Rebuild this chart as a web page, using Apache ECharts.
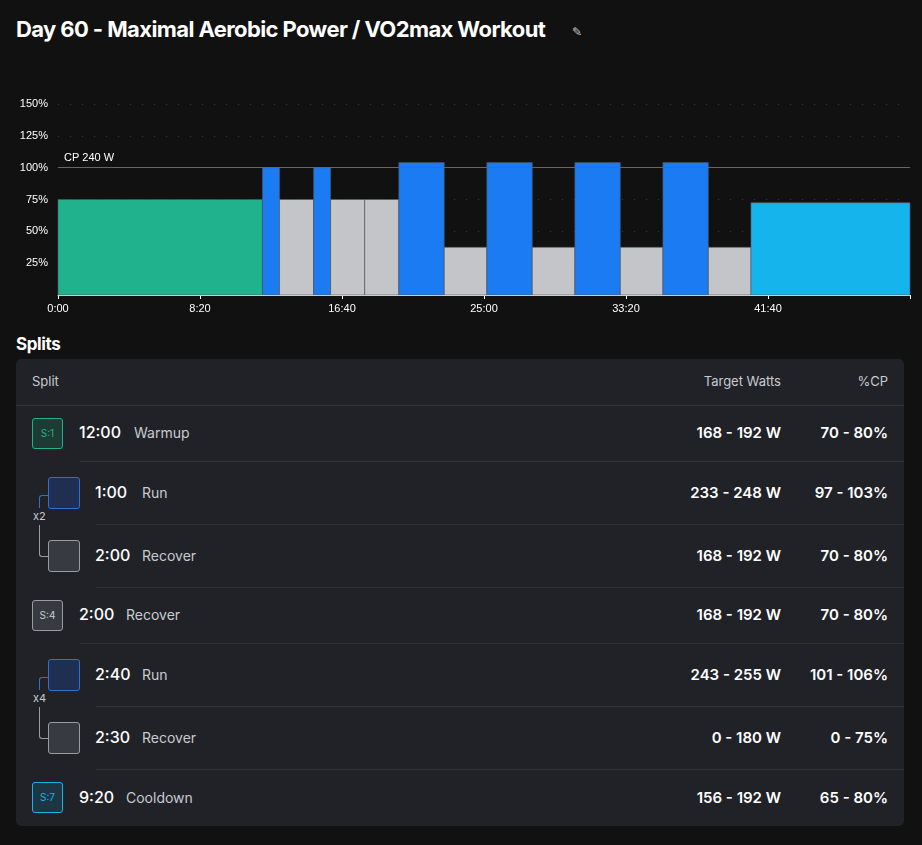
<!DOCTYPE html>
<html>
<head>
<meta charset="UTF-8">
<title>Workout</title>
<script src="https://cdn.jsdelivr.net/npm/echarts@6/dist/echarts.min.js"></script>
<style>
  body { margin:0; background:#111111; font-family: Inter, "Noto Sans", sans-serif; color:#fff; width:922px; height:845px; position:relative; overflow:hidden; }
  h1 { position:absolute; left:16px; top:16px; margin:0; font-size:22px; font-weight:700; letter-spacing:-0.6px; }
  .edit { position:absolute; left:572px; top:24px; font-size:12px; color:#ccc; }
  #main { position:absolute; left:0; top:90px; width:922px; height:230px; }
  h2 { position:absolute; left:16px; top:334px; margin:0; font-size:17px; font-weight:700; letter-spacing:-0.4px; }
  .panel { position:absolute; left:16px; top:359px; width:888px; height:467px; background:#202227; border-radius:5px; }
  .hdr { position:absolute; top:14px; font-size:13px; color:#c9cbd0; }
  .t { position:absolute; font-size:16px; font-weight:500; color:#fff; }
  .n { position:absolute; font-size:14px; color:#c9cbd0; }
  .w { position:absolute; right:123px; font-size:15px; font-weight:600; }
  .p { position:absolute; right:16px; font-size:15px; font-weight:600; }
  .box { position:absolute; border-radius:3px; box-sizing:border-box; font-size:10px; text-align:center; }
</style>
</head>
<body>
<h1>Day 60 - Maximal Aerobic Power / VO2max Workout</h1>
<div class="edit">&#9998;</div>
<div id="main"></div>
<h2>Splits</h2>
<div class="panel" id="panel"></div>
<script type="text/javascript">
  // segments: start (s), end (s), %CP, kind
  var segStart = [0, 720, 780, 900, 960, 1080, 1200, 1360, 1510, 1670, 1820, 1980, 2130, 2290, 2440];
  var segEnd   = [720, 780, 900, 960, 1080, 1200, 1360, 1510, 1670, 1820, 1980, 2130, 2290, 2440, 3000];
  var segPct   = [75, 100, 75, 100, 75, 75, 104, 37.5, 104, 37.5, 104, 37.5, 104, 37.5, 72.5];
  var segKind  = ['warm','run','rec','run','rec','rec','run','rec','run','rec','run','rec','run','rec','cool'];
  var kindColor = { warm:'#20b28c', run:'#1a7bf2', rec:'#c4c5c9', cool:'#16b4ed' };

  var data = [];
  for (var i = 0; i < segStart.length; i++) {
    data.push({ value: [segStart[i], segEnd[i], segPct[i]], itemStyle: { color: kindColor[segKind[i]] } });
  }

  function fmtTime(s) {
    var m = Math.floor(s / 60), r = s % 60;
    return m + ':' + (r < 10 ? '0' : '') + r;
  }

  var myChart = echarts.init(document.getElementById('main'));
  myChart.setOption({
    backgroundColor: 'transparent',
    animation: false,
    grid: { left: 58, right: 12, top: 14, bottom: 25 },
    xAxis: {
      type: 'value', min: 0, max: 3000, interval: 500,
      axisLine: { show: true, lineStyle: { color: '#ffffff' } },
      axisTick: { show: true, length: 4, lineStyle: { color: '#ffffff' } },
      splitLine: { show: false },
      axisLabel: { color: '#fff', fontSize: 11, formatter: function (v) { return v >= 3000 ? '' : fmtTime(v); } }
    },
    yAxis: {
      type: 'value', min: 0, max: 150, interval: 25,
      axisLine: { show: false }, axisTick: { show: false },
      splitLine: { show: true, lineStyle: { color: '#3a3a3a', type: [1, 11] } },
      axisLabel: { color: '#fff', fontSize: 11, margin: 10, formatter: function (v) { return v === 0 ? '' : v + '%'; } }
    },
    series: [{
      type: 'custom',
      renderItem: function (params, api) {
        var p0 = api.coord([api.value(0), api.value(2)]);
        var p1 = api.coord([api.value(1), 0]);
        return {
          type: 'rect',
          shape: { x: p0[0], y: p0[1], width: p1[0] - p0[0], height: p1[1] - p0[1] },
          style: { fill: api.visual('color'), stroke: '#555', lineWidth: 0.6 }
        };
      },
      encode: { x: [0, 1], y: 2 },
      data: data,
      markLine: {
        silent: true, symbol: 'none',
        lineStyle: { color: '#666', type: 'solid', width: 1 },
        label: { show: true, position: 'insideStartTop', formatter: 'CP 240 W', color: '#fff', fontSize: 11, distance: [6, 4] },
        data: [{ yAxis: 100 }]
      },
      z: 1
    }]
  });

  // split table
  var rowTop   = [46, 102, 165, 228, 284, 347, 410];
  var rowH     = [56, 63, 63, 56, 63, 63, 57];
  var rowTime  = ['12:00', '1:00', '2:00', '2:00', '2:40', '2:30', '9:20'];
  var rowName  = ['Warmup', 'Run', 'Recover', 'Recover', 'Run', 'Recover', 'Cooldown'];
  var rowWatts = ['168 - 192 W', '233 - 248 W', '168 - 192 W', '168 - 192 W', '243 - 255 W', '0 - 180 W', '156 - 192 W'];
  var rowPct   = ['70 - 80%', '97 - 103%', '70 - 80%', '70 - 80%', '101 - 106%', '0 - 75%', '65 - 80%'];
  var rowTag   = ['S:1', '', '', 'S:4', '', '', 'S:7'];
  var rowKind  = ['warm', 'run', 'rec', 'rec', 'run', 'rec', 'cool'];
  var rowIndent= [0, 1, 1, 0, 1, 1, 0];

  var boxStyle = {
    warm: 'border:1px solid #20b28c;background:#1d3a33;color:#20b28c;',
    run:  'border:1px solid #2f6fd6;background:#1e2f52;',
    rec:  'border:1px solid #9a9ca2;background:#373a41;color:#c9cbd0;',
    cool: 'border:1px solid #16b4ed;background:#1c3644;color:#16b4ed;'
  };
  var lineLeft = [0, 64, 80, 80, 64, 80, 80];

  var html = '<div class="hdr" style="left:16px">Split</div>' +
             '<div class="hdr" style="right:123px">Target Watts</div>' +
             '<div class="hdr" style="right:16px">%CP</div>';
  for (var r = 0; r < rowTime.length; r++) {
    var rt = rowTop[r], mid = rowH[r] / 2;
    var ind = rowIndent[r];
    html += '<div style="position:absolute;top:' + rt + 'px;left:' + lineLeft[r] + 'px;right:0;border-top:1px solid #30333a"></div>';
    var bsz = ind ? 32 : 31;
    var bx = ind ? 32 : 16;
    html += '<div class="box" style="left:' + bx + 'px;top:' + (rt + mid - bsz / 2) + 'px;width:' + bsz + 'px;height:' + bsz + 'px;line-height:' + (bsz - 2) + 'px;' + boxStyle[rowKind[r]] + '">' + rowTag[r] + '</div>';
    var tx = ind ? 79 : 63;
    html += '<div class="t" style="left:' + tx + 'px;top:' + (rt + mid - 11) + 'px">' + rowTime[r] + '</div>';
    var nx = tx + (rowTime[r].length === 5 ? 55 : 47);
    html += '<div class="n" style="left:' + nx + 'px;top:' + (rt + mid - 9) + 'px">' + rowName[r] + '</div>';
    html += '<div class="w" style="top:' + (rt + mid - 10) + 'px">' + rowWatts[r] + '</div>';
    html += '<div class="p" style="top:' + (rt + mid - 10) + 'px">' + rowPct[r] + '</div>';
  }
  // repeat brackets
  var reps = [[1, 'x2'], [4, 'x4']];
  for (var k = 0; k < reps.length; k++) {
    var a = reps[k][0];
    var y1 = rowTop[a] + rowH[a] / 2, y2 = rowTop[a + 1] + rowH[a + 1] / 2;
    html += '<div style="position:absolute;left:23px;top:' + (y1 + 2) + 'px;width:9px;height:12px;border-left:1px solid #2f6fd6;border-top:1px solid #2f6fd6;border-top-left-radius:3px"></div>';
    html += '<div style="position:absolute;left:17px;top:' + (y1 + 16) + 'px;font-size:11px;color:#c9cbd0">' + reps[k][1] + '</div>';
    html += '<div style="position:absolute;left:23px;top:' + (y1 + 32) + 'px;width:9px;height:' + (y2 - y1 - 32) + 'px;border-left:1px solid #9a9ca2;border-bottom:1px solid #9a9ca2;border-bottom-left-radius:3px"></div>';
  }
  document.getElementById('panel').innerHTML = html;
</script>
</body>
</html>
